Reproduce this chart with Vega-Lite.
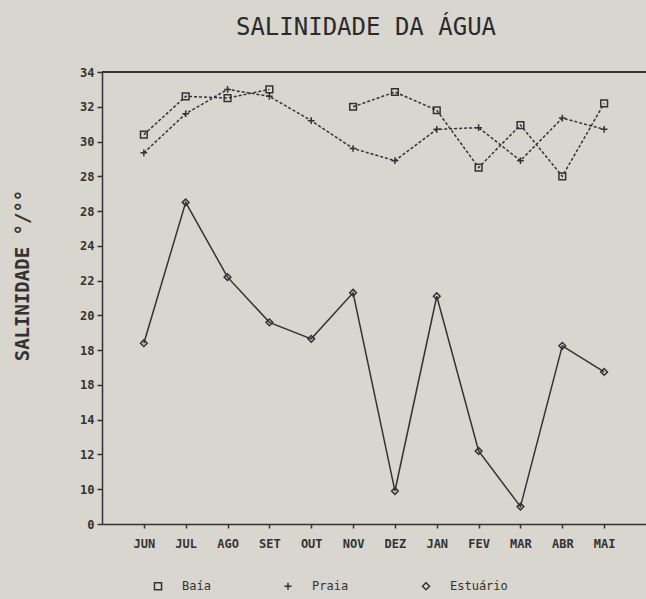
{
  "$schema": "https://vega.github.io/schema/vega-lite/v6.json",
  "width": 544,
  "height": 452,
  "autosize": "none",
  "padding": {"left": 102, "top": 72, "right": 0, "bottom": 75},
  "background": "#d8d6ce",
  "title": {"text": "SALINIDADE DA ÁGUA", "font": "DejaVu Sans Mono", "fontSize": 24, "fontWeight": "normal", "color": "#2a2a2a", "anchor": "middle", "offset": 26, "dx": -8},
  "config": {
    "view": {"stroke": null},
    "axis": {"domainColor": "#333", "domainWidth": 1.5, "tickColor": "#333", "tickWidth": 1.5, "labelColor": "#333", "titleColor": "#333", "grid": false, "labelFont": "DejaVu Sans Mono", "titleFont": "DejaVu Sans Mono"}
  },
  "data": {"values": [
    {"month": "JUN", "series": "Baía", "value": 30.4},
    {"month": "JUL", "series": "Baía", "value": 32.6},
    {"month": "AGO", "series": "Baía", "value": 32.5},
    {"month": "SET", "series": "Baía", "value": 33.0},
    {"month": "OUT", "series": "Baía", "value": null},
    {"month": "NOV", "series": "Baía", "value": 32.0},
    {"month": "DEZ", "series": "Baía", "value": 32.85},
    {"month": "JAN", "series": "Baía", "value": 31.8},
    {"month": "FEV", "series": "Baía", "value": 28.5},
    {"month": "MAR", "series": "Baía", "value": 30.95},
    {"month": "ABR", "series": "Baía", "value": 28.0},
    {"month": "MAI", "series": "Baía", "value": 32.2},
    {"month": "JUN", "series": "Praia", "value": 29.35},
    {"month": "JUL", "series": "Praia", "value": 31.6},
    {"month": "AGO", "series": "Praia", "value": 33.0},
    {"month": "SET", "series": "Praia", "value": 32.6},
    {"month": "OUT", "series": "Praia", "value": 31.2},
    {"month": "NOV", "series": "Praia", "value": 29.6},
    {"month": "DEZ", "series": "Praia", "value": 28.9},
    {"month": "JAN", "series": "Praia", "value": 30.7},
    {"month": "FEV", "series": "Praia", "value": 30.8},
    {"month": "MAR", "series": "Praia", "value": 28.9},
    {"month": "ABR", "series": "Praia", "value": 31.35},
    {"month": "MAI", "series": "Praia", "value": 30.7},
    {"month": "JUN", "series": "Estuário", "value": 18.4},
    {"month": "JUL", "series": "Estuário", "value": 26.5},
    {"month": "AGO", "series": "Estuário", "value": 22.2},
    {"month": "SET", "series": "Estuário", "value": 19.6},
    {"month": "OUT", "series": "Estuário", "value": 18.65},
    {"month": "NOV", "series": "Estuário", "value": 21.3},
    {"month": "DEZ", "series": "Estuário", "value": 9.9},
    {"month": "JAN", "series": "Estuário", "value": 21.1},
    {"month": "FEV", "series": "Estuário", "value": 12.2},
    {"month": "MAR", "series": "Estuário", "value": 9.0},
    {"month": "ABR", "series": "Estuário", "value": 18.25},
    {"month": "MAI", "series": "Estuário", "value": 16.75}
  ]},
  "encoding": {
    "x": {"field": "month", "type": "ordinal", "sort": ["JUN","JUL","AGO","SET","OUT","NOV","DEZ","JAN","FEV","MAR","ABR","MAI"],
      "scale": {"type": "point", "padding": 1},
      "axis": {"title": null, "labelAngle": 0, "labelFontSize": 12, "labelFontWeight": "bold", "tickSize": 4, "labelPadding": 10}},
    "y": {"field": "value", "type": "quantitative", "scale": {"domain": [8, 34], "nice": false, "zero": false},
      "axis": {"values": [8,10,12,14,16,18,20,22,24,26,28,30,32,34], "labelExpr": "datum.value == 26 ? '28' : datum.value == 16 ? '18' : datum.value == 8 ? '0' : datum.label",
        "labelFontSize": 12, "labelFontWeight": "bold", "tickSize": 5, "labelPadding": 3,
        "title": "SALINIDADE °/°°", "titleFontSize": 19, "titleFontWeight": "bold", "titleAngle": -90, "titleX": -80, "titleY": 203, "titleAlign": "center", "titleBaseline": "middle"}}
  },
  "layer": [
    {"mark": {"type": "rule", "color": "#333", "strokeWidth": 1.5}, "encoding": {"x": null, "y": {"datum": 34}}},
    {"transform": [{"filter": "datum.series != 'Estuário'"}],
     "mark": {"type": "line", "color": "#333", "strokeWidth": 1.5, "strokeDash": [3, 2], "invalid": "break-paths-show-domains"},
     "encoding": {"detail": {"field": "series"}}},
    {"transform": [{"filter": "datum.series == 'Estuário'"}],
     "mark": {"type": "line", "color": "#333", "strokeWidth": 1.5},
     "encoding": {"detail": {"field": "series"}}},
    {"mark": {"type": "point", "filled": false, "color": "#333", "strokeWidth": 1.5, "opacity": 1, "size": 45},
      "encoding": {
        "shape": {"field": "series", "type": "nominal", "scale": {"domain": ["Baía", "Praia", "Estuário"], "range": ["square", "M-1,0H1M0,-1V1", "diamond"]},
          "legend": {"title": null, "orient": "none", "legendX": 50, "legendY": 508, "direction": "horizontal", "labelFont": "DejaVu Sans Mono", "labelFontSize": 12, "labelColor": "#333", "columnPadding": 70, "labelOffset": 18, "symbolStrokeColor": "#333", "symbolStrokeWidth": 1.5, "symbolSize": 50}}
      }}
  ]
}
